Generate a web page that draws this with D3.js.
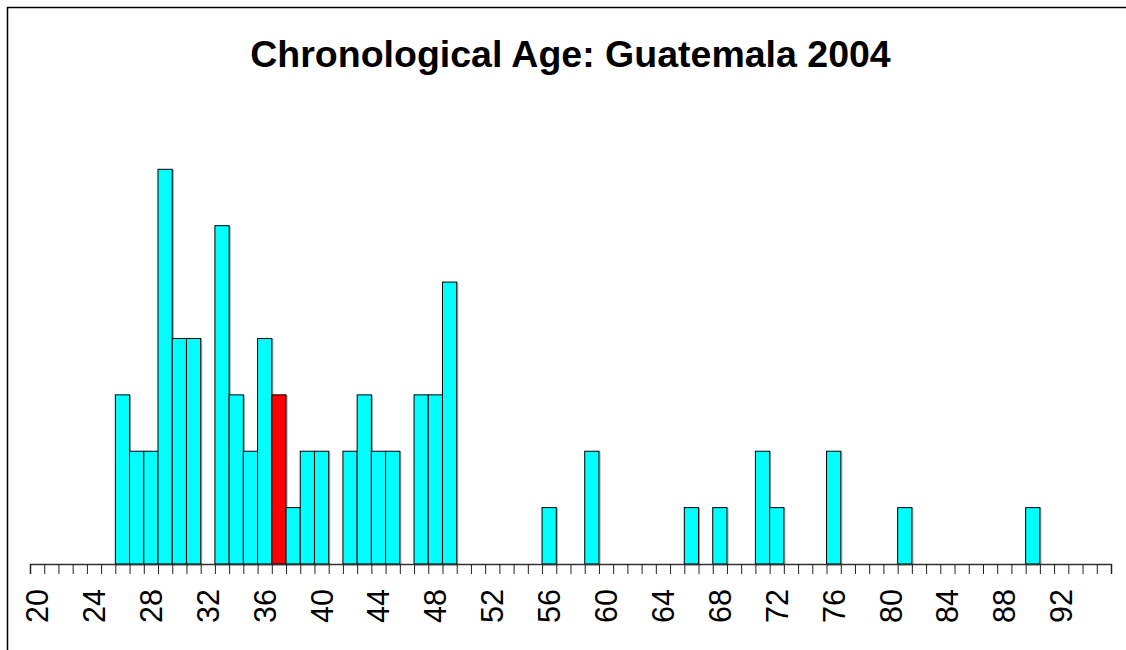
<!DOCTYPE html>
<html lang="en">
<head>
    <meta charset="UTF-8">
    <script src="https://d3js.org/d3.v7.min.js"></script>
    <title>Chronological Age</title>
    <style>
    body {margin: 0; background: white;}
    svg text {font-family: "Liberation Sans", Arial, sans-serif; fill: black;}
    </style>
</head>
<body>
    <svg></svg>
    <script>

        // ages (left edge of each 1-year bin) and how many people fall in it
        var ages = [26,27,28,29,30,31,33,34,35,36,37,38,39,40,42,43,44,45,47,48,49,56,59,66,68,71,72,76,81,90];
        var counts = [3,2,2,7,4,4,6,3,2,4,3,1,2,2,2,3,2,2,3,3,5,1,2,1,1,2,1,2,1,1];
        var highlightAge = 37;
        var tickLabels = [20,24,28,32,36,40,44,48,52,56,60,64,68,72,76,80,84,88,92];
        var title = "Chronological Age: Guatemala 2004";

        var W = 1126, H = 650;
        var left = 30, right = 1111, baseY = 564;

        var svg = d3.select("svg")
            .attr("width", W)
            .attr("height", H);

        // outer frame (right/bottom edges run off the picture)
        svg.append("rect")
            .attr("x", 7.5).attr("y", 7.5)
            .attr("width", W + 20).attr("height", H + 20)
            .attr("fill", "white")
            .attr("stroke", "black")
            .attr("stroke-width", 1.5);

        var x = d3.scaleLinear().domain([20, 96]).range([left, right]);
        var y = d3.scaleLinear().domain([0, 7]).range([baseY, 169.3]);

        svg.append("text")
            .attr("x", (left + right) / 2)
            .attr("y", 67)
            .attr("text-anchor", "middle")
            .style("font-size", "37.5px")
            .style("font-weight", "bold")
            .text(title);

        var bars = svg.append("g").selectAll("g").data(ages).enter().append("g");

        // faint drop shadow like the original device output
        bars.append("rect")
            .attr("x", function(d) {return x(d) + 1;})
            .attr("y", function(d, i) {return y(counts[i]) + 1;})
            .attr("width", function(d) {return x(d + 1) - x(d);})
            .attr("height", function(d, i) {return baseY - y(counts[i]);})
            .attr("fill", "none")
            .attr("stroke", "#999")
            .attr("stroke-width", 1);

        bars.append("rect")
            .attr("x", function(d) {return x(d);})
            .attr("y", function(d, i) {return y(counts[i]);})
            .attr("width", function(d) {return x(d + 1) - x(d);})
            .attr("height", function(d, i) {return baseY - y(counts[i]);})
            .attr("fill", function(d) {return d === highlightAge ? "#ff0000" : "#00ffff";})
            .attr("stroke", "black")
            .attr("stroke-width", 1);

        // x axis: a tick on every bin edge, labels every 4 years at bin centres
        var axis = d3.axisBottom(x)
            .tickValues(d3.range(20, 97))
            .tickSize(10)
            .tickFormat("");
        var gAxis = svg.append("g")
            .attr("transform", "translate(0," + baseY + ")")
            .call(axis);
        gAxis.select(".domain").attr("stroke", "#333").attr("stroke-width", 1.5);
        gAxis.selectAll(".tick line").attr("stroke", "#222");

        svg.append("g").selectAll("text").data(tickLabels).enter()
            .append("text")
            .attr("transform", function(d) {return "translate(" + x(d + 0.5) + ",589) rotate(-90)";})
            .attr("text-anchor", "end")
            .attr("dominant-baseline", "central")
            .style("font-size", "30.5px")
            .text(function(d) {return d;});

    </script>
</body>
</html>
